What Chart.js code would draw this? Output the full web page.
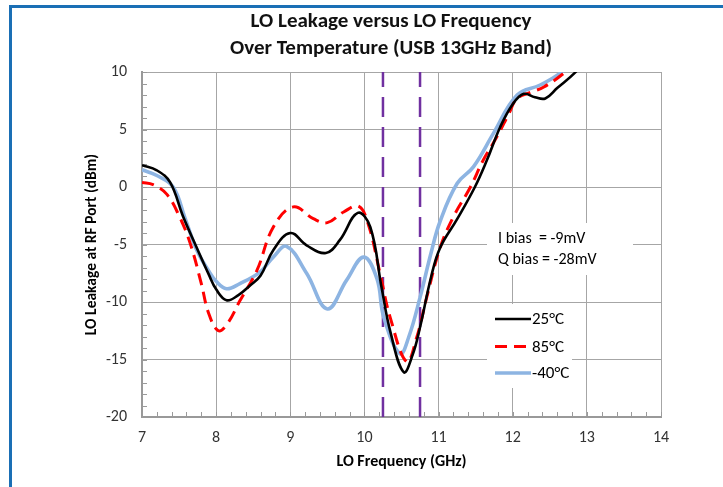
<!DOCTYPE html>
<html>
<head>
<meta charset="utf-8">
<script src="https://cdn.jsdelivr.net/npm/chart.js@4.4.1/dist/chart.umd.min.js"></script>
<style>
  html, body { margin: 0; padding: 0; background: #fff; overflow: hidden; }
  #wrap { position: relative; width: 723px; height: 487px; overflow: hidden; }
  canvas { position: absolute; left: 0; top: 0; }
  #frame { position: absolute; left: 9px; top: 5px; width: 900px; height: 700px;
           border-top: 3px solid #1a6fb5; border-left: 3px solid #1a6fb5; pointer-events: none; }
</style>
</head>
<body>
<div id="wrap">
  <canvas id="chart" width="723" height="487"></canvas>
  <div id="frame"></div>
</div>
<script>
// LO leakage (dBm) vs LO frequency (GHz), one pair of arrays per temperature
const freq25 = [7.0, 7.2, 7.38, 7.55, 7.74, 7.9, 8.0, 8.14, 8.3, 8.45, 8.6, 8.77, 9.0, 9.22, 9.48, 9.67, 9.91, 10.08, 10.23, 10.35, 10.53, 10.65, 10.75, 10.9, 11.02, 11.25, 11.49, 11.65, 11.83, 12.0, 12.15, 12.3, 12.44, 12.6, 12.84, 13.0];
const leak25 = [1.9, 1.45, 0.4, -2.5, -5.3, -7.6, -8.9, -9.85, -9.4, -8.6, -7.7, -5.5, -4.0, -5.07, -5.74, -4.6, -2.25, -3.5, -8.7, -12.6, -16.1, -14.6, -12.2, -7.8, -5.3, -2.8, 0.0, 2.3, 5.2, 7.2, 8.1, 7.8, 7.7, 8.6, 9.94, 11.2];

const freq85 = [7.0, 7.15, 7.33, 7.5, 7.65, 7.8, 7.9, 8.03, 8.15, 8.32, 8.55, 8.77, 9.04, 9.31, 9.5, 9.72, 9.92, 10.05, 10.21, 10.35, 10.57, 10.7, 10.84, 11.02, 11.2, 11.43, 11.6, 11.79, 11.95, 12.06, 12.25, 12.42, 12.69, 12.9];
const leak85 = [0.4, 0.2, -0.6, -2.5, -4.9, -8.4, -11.0, -12.5, -11.9, -9.9, -7.25, -3.5, -1.73, -2.75, -3.1, -2.17, -1.67, -3.2, -7.5, -11.4, -15.2, -13.2, -9.6, -5.3, -2.6, 0.0, 2.3, 4.4, 6.4, 7.7, 8.25, 8.7, 9.9, 11.2];

const freqM40 = [7.0, 7.2, 7.42, 7.58, 7.74, 7.9, 8.0, 8.14, 8.32, 8.59, 8.77, 8.95, 9.22, 9.5, 9.76, 9.99, 10.17, 10.26, 10.48, 10.6, 10.75, 10.9, 11.02, 11.25, 11.47, 11.74, 12.06, 12.37, 12.64, 12.8];
const leakM40 = [1.5, 1.0, 0.0, -2.7, -5.5, -7.3, -8.2, -8.85, -8.4, -7.4, -6.1, -5.16, -7.5, -10.6, -8.1, -6.1, -8.0, -11.3, -14.5, -13.0, -9.6, -5.7, -3.0, 0.3, 1.75, 4.66, 8.0, 8.87, 9.9, 11.0];

// band edge markers (GHz)
const bandEdges = [10.25, 10.75];

const seriesLabels = ['25°C', '85°C', '-40°C'];
const titleLines = ['LO Leakage versus LO Frequency', 'Over Temperature (USB 13GHz Band)'];
const noteLines = ['I bias  = -9mV', 'Q bias = -28mV'];
const xTitle = 'LO Frequency (GHz)';
const yTitle = 'LO Leakage at RF Port (dBm)';

const FONT = 'Carlito, Lato, "Open Sans", sans-serif';
Chart.defaults.font.family = FONT;

const pairs = (xs, ys) => xs.map((v, i) => ({ x: v, y: ys[i] }));

const curves = [
  { label: seriesLabels[0], data: pairs(freq25, leak25), borderColor: '#000000', borderWidth: 2.6, borderDash: [] },
  { label: seriesLabels[1], data: pairs(freq85, leak85), borderColor: '#ff0000', borderWidth: 3, borderDash: [12, 7] },
  { label: seriesLabels[2], data: pairs(freqM40, leakM40), borderColor: '#8db4e2', borderWidth: 3.6, borderDash: [] }
].map(d => Object.assign(d, { pointRadius: 0, tension: 0.4, fill: false, isCurve: true }));

const edgeSets = bandEdges.map(f => ({
  label: 'edge', data: [{ x: f, y: -20 }, { x: f, y: 10 }],
  borderColor: '#7030a0', borderWidth: 2.5, borderDash: [20, 10], pointRadius: 0, tension: 0, fill: false
}));

const decor = {
  id: 'decor',
  beforeDatasetsDraw(chart) {
    const { ctx, chartArea: a, scales: { x, y } } = chart;
    ctx.save();
    // minor tick marks pointing into the plot
    ctx.strokeStyle = '#9a9a9a';
    ctx.lineWidth = 1;
    for (let i = 0; i <= 35; i++) {
      const px = Math.round(x.getPixelForValue(7 + i * 0.2)) + 0.5;
      ctx.beginPath(); ctx.moveTo(px, a.bottom); ctx.lineTo(px, a.bottom - 5); ctx.stroke();
    }
    for (let v = -20; v <= 10; v++) {
      const py = Math.round(y.getPixelForValue(v)) + 0.5;
      ctx.beginPath(); ctx.moveTo(a.left, py); ctx.lineTo(a.left + 5, py); ctx.stroke();
    }
    // note and legend panels
    ctx.fillStyle = '#ffffff';
    ctx.fillRect(487, 223, 146, 52);
    ctx.fillRect(487, 304, 85, 84);
    ctx.fillStyle = '#000000';
    ctx.font = '16px ' + FONT;
    ctx.textAlign = 'left';
    ctx.textBaseline = 'middle';
    ctx.fillText(noteLines[0], 498, 239);
    ctx.fillText(noteLines[1], 498, 260);
    // legend entries from the curve datasets
    const rows = [319, 346.5, 373];
    ctx.font = '17px ' + FONT;
    chart.data.datasets.filter(d => d.isCurve).forEach((d, i) => {
      ctx.save();
      ctx.strokeStyle = d.borderColor;
      ctx.lineWidth = d.borderWidth;
      ctx.setLineDash(d.borderDash || []);
      ctx.beginPath(); ctx.moveTo(495, rows[i]); ctx.lineTo(531, rows[i]); ctx.stroke();
      ctx.restore();
      ctx.fillText(d.label, 532, rows[i] + 1);
    });
    ctx.restore();
  },
  afterDraw(chart) {
    const { ctx } = chart;
    ctx.save();
    ctx.fillStyle = '#111111';
    ctx.font = 'bold 21px ' + FONT;
    ctx.textAlign = 'center';
    ctx.textBaseline = 'middle';
    ctx.fillText(titleLines[0], 391, 22);
    ctx.fillText(titleLines[1], 391, 49);
    ctx.restore();
  }
};

new Chart(document.getElementById('chart'), {
  type: 'line',
  data: { datasets: [...curves, ...edgeSets] },
  plugins: [decor],
  options: {
    responsive: false,
    animation: false,
    layout: { padding: { top: 72, right: 62, left: 0, bottom: 0 } },
    plugins: { legend: { display: false }, tooltip: { enabled: false }, title: { display: false } },
    scales: {
      x: {
        type: 'linear', min: 7, max: 14,
        afterFit: s => { s.height = 70; },
        ticks: { stepSize: 1, color: '#333333', font: { size: 16 }, padding: 11 },
        grid: { color: '#a6a6a6', lineWidth: 1, drawTicks: false },
        border: { color: '#999999', width: 2 },
        title: { display: true, text: xTitle, color: '#000000', font: { size: 16, weight: 'bold' }, padding: { top: 0, bottom: 15 } }
      },
      y: {
        type: 'linear', min: -20, max: 10,
        afterFit: s => { s.width = 142; },
        ticks: { stepSize: 5, color: '#333333', font: { size: 16 }, padding: 15 },
        grid: { color: '#a6a6a6', lineWidth: 1, drawTicks: false },
        border: { color: '#999999', width: 2 },
        title: { display: true, text: yTitle, color: '#000000', font: { size: 15.5, weight: 'bold' }, padding: { top: 83, bottom: 0 } }
      }
    }
  }
});
</script>
</body>
</html>
